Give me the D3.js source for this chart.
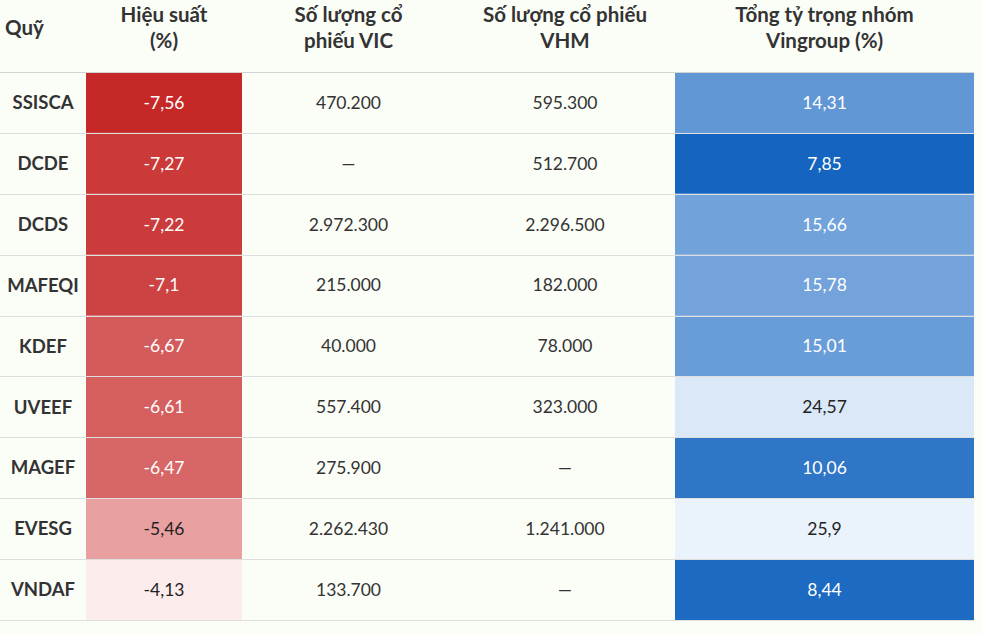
<!DOCTYPE html>
<html>
<head>
<meta charset="utf-8">
<script src="https://cdn.jsdelivr.net/npm/d3@7"></script>
<style>
    html, body { margin: 0; padding: 0; background: #fbfdf7; }
    svg { display: block; }
    text { font-family: Lato, "Noto Sans", sans-serif; }
</style>
</head>
<body>
<svg id="chart"></svg>
<script>
// Table data
const funds = ['SSISCA', 'DCDE', 'DCDS', 'MAFEQI', 'KDEF', 'UVEEF', 'MAGEF', 'EVESG', 'VNDAF'];
const performance = [-7.56, -7.27, -7.22, -7.1, -6.67, -6.61, -6.47, -5.46, -4.13];
const vicShares = [470200, null, 2972300, 215000, 40000, 557400, 275900, 2262430, 133700];
const vhmShares = [595300, 512700, 2296500, 182000, 78000, 323000, null, 1241000, null];
const vingroupWeight = [14.31, 7.85, 15.66, 15.78, 15.01, 24.57, 10.06, 25.9, 8.44];
const headers = [['Quỹ'], ['Hiệu suất', '(%)'], ['Số lượng cổ', 'phiếu VIC'], ['Số lượng cổ phiếu', 'VHM'], ['Tổng tỷ trọng nhóm', 'Vingroup (%)']];

const width = 982, height = 634;
const headerH = 72, tableW = 974;
const colEdges = [0, 86, 242, 455, 675, tableW];

const svg = d3.select('#chart')
    .attr('width', width)
    .attr('height', height);

const y = d3.scaleBand()
    .domain(funds)
    .range([headerH, 620]);

const fmtInt = d3.formatLocale({ decimal: ',', thousands: '.', grouping: [3], currency: ['', ''] }).format(',d');
const fmtDec = v => String(v).replace('.', ',');

const redScale = d3.scaleLinear()
    .domain(d3.extent(performance))
    .range(['#c62828', '#fdecec']);
const blueScale = d3.scaleLinear()
    .domain(d3.extent(vingroupWeight))
    .range(['#1565c0', '#eaf2fc']);

const rows = funds.map((f, i) => ({
    fund: f,
    perf: performance[i],
    vic: vicShares[i],
    vhm: vhmShares[i],
    weight: vingroupWeight[i]
}));

const gRows = svg.append('g').attr('class', 'rows');

// colored cells
gRows.selectAll('.perfCell')
    .data(rows)
    .enter().append('rect')
    .attr('class', 'perfCell')
    .attr('x', colEdges[1])
    .attr('width', colEdges[2] - colEdges[1])
    .attr('y', d => y(d.fund))
    .attr('height', y.bandwidth())
    .attr('fill', d => redScale(d.perf));

gRows.selectAll('.weightCell')
    .data(rows)
    .enter().append('rect')
    .attr('class', 'weightCell')
    .attr('x', colEdges[4])
    .attr('width', colEdges[5] - colEdges[4])
    .attr('y', d => y(d.fund))
    .attr('height', y.bandwidth())
    .attr('fill', d => blueScale(d.weight));

// row lines
const lineYs = [headerH].concat(funds.map(f => y(f) + y.bandwidth()));
svg.append('g').selectAll('line')
    .data(lineYs)
    .enter().append('line')
    .attr('x1', 0)
    .attr('x2', tableW)
    .attr('y1', d => Math.round(d) + 0.5)
    .attr('y2', d => Math.round(d) + 0.5)
    .attr('stroke', (d, i) => i === 0 ? '#d4d4d4' : '#dedede')
    .attr('stroke-width', 1);

const colCenter = i => (colEdges[i] + colEdges[i + 1]) / 2;

// cell text
const columns = [
    { key: 'fund', fmt: v => v, bold: true, size: 18.5, color: () => '#333' },
    { key: 'perf', fmt: fmtDec, size: 17.5, color: d => (redScale.domain()[1] - d.perf) / (redScale.domain()[1] - redScale.domain()[0]) > 0.45 ? '#fff' : '#222' },
    { key: 'vic', fmt: v => v == null ? '—' : fmtInt(v), size: 17.5, color: () => '#333' },
    { key: 'vhm', fmt: v => v == null ? '—' : fmtInt(v), size: 17.5, color: () => '#333' },
    { key: 'weight', fmt: fmtDec, size: 17.5, color: d => (d.weight - blueScale.domain()[0]) / (blueScale.domain()[1] - blueScale.domain()[0]) < 0.6 ? '#fff' : '#222' }
];

columns.forEach((c, ci) => {
    gRows.selectAll('.txt' + ci)
        .data(rows)
        .enter().append('text')
        .attr('class', 'txt' + ci)
        .attr('x', colCenter(ci))
        .attr('y', d => y(d.fund) + y.bandwidth() / 2)
        .attr('dy', '0.36em')
        .attr('text-anchor', 'middle')
        .attr('font-size', c.size)
        .attr('font-weight', c.bold ? 700 : 400)
        .attr('fill', d => c.color(d))
        .text(d => c.fmt(d[c.key]));
});

// header
const gHead = svg.append('g').attr('class', 'header');
headers.forEach((lines, i) => {
    const t = gHead.append('text')
        .attr('font-size', 20.5)
        .attr('font-weight', 700)
        .attr('fill', '#333')
        .attr('text-anchor', i === 0 ? 'start' : 'middle')
        .attr('x', i === 0 ? 5 : colCenter(i));
    if (lines.length === 1) {
        t.attr('y', 35).text(lines[0]);
    } else {
        lines.forEach((l, j) => {
            t.append('tspan')
                .attr('x', colCenter(i))
                .attr('y', 22 + j * 26)
                .text(l);
        });
    }
});
</script>
</body>
</html>
